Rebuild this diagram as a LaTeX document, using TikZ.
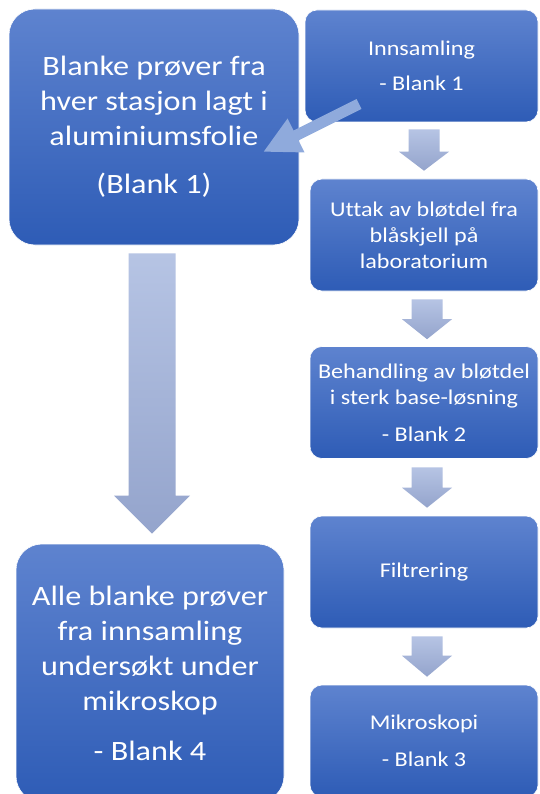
\documentclass[tikz,border=0pt]{standalone}
\usepackage{fontspec}
\setmainfont{Carlito}[FakeStretch=1.15,Ligatures={NoCommon}]
\usetikzlibrary{calc,arrows.meta}
\definecolor{boxtop}{RGB}{94,131,207}
\definecolor{boxmid}{RGB}{66,113,200}
\definecolor{boxbot}{RGB}{46,92,182}
\definecolor{arrtop}{RGB}{182,196,228}
\definecolor{arrbot}{RGB}{148,164,204}
\definecolor{diagcol}{RGB}{143,170,220}
\newcommand{\bigfnt}{\fontsize{28}{35}\selectfont}
\newcommand{\smallfnt}{\fontsize{21}{26}\selectfont}
% #1 from, #2 to, #3 dx, #4 top gap, #5 bottom gap, #6 stem half, #7 head half, #8 head length
\newcommand{\blockdown}[8]{%
  \coordinate (#1-#2-s) at ($(#1.south)+(#3,#4)$);
  \coordinate (#1-#2-t) at ($(#1-#2-s |- #2.north)+(0,-#5)$);
  \shade[arrowfill] ($(#1-#2-s)+(-#6,0)$) -- ($(#1-#2-s)+(#6,0)$)
    -- ($(#1-#2-t)+(#6,-#8)$) -- ($(#1-#2-t)+(#7,-#8)$) -- (#1-#2-t)
    -- ($(#1-#2-t)+(-#7,-#8)$) -- ($(#1-#2-t)+(-#6,-#8)$) -- cycle;}
\begin{document}
\begin{tikzpicture}[x=1pt,y=-1pt,
  box/.style={rectangle, rounded corners=#1, draw=white, line width=0.6pt,
    top color=boxtop, middle color=boxmid, bottom color=boxbot,
    text=white, align=center, inner sep=0pt},
  box/.default=12pt,
  bigbox/.style={box=26pt, font=\bigfnt},
  flowbox/.style={box=12pt, font=\smallfnt, minimum width=228pt, minimum height=112pt},
  arrowfill/.style={top color=arrtop, bottom color=arrbot, draw=none}]
\useasboundingbox (0,0) rectangle (539,794);
\fill[white] (0,0) rectangle (539,794);
% left column
\node[bigbox, minimum width=290pt, minimum height=236pt] (tl) at (154,127)
  {Blanke prøver fra\\hver stasjon lagt i\\aluminiumsfolie\\[13pt](Blank 1)};
\node[bigbox, minimum width=268pt, minimum height=258pt] (bl) at (150,673)
  {Alle blanke prøver\\fra innsamling\\undersøkt under\\mikroskop\\[15pt]- Blank 4};
% right column
\node[flowbox, minimum width=233pt] (b1) at (421.5,66) {Innsamling\\[9pt]- Blank 1};
\node[flowbox] (b2) at (424,235) {Uttak av bløtdel fra\\blåskjell på\\laboratorium};
\node[flowbox] (b3) at (424,402.5) {Behandling av bløtdel\\i sterk base-løsning\\[11pt]- Blank 2};
\node[flowbox] (b4) at (424,572) {\raisebox{-4pt}{Filtrering}};
\node[flowbox] (b5) at (424,741) {Mikroskopi\\[11pt]- Blank 3};
% block arrows
\blockdown{tl}{bl}{-2}{8}{10}{23.5}{38}{38}
\blockdown{b1}{b2}{2.5}{7}{8}{15.5}{25}{19}
\blockdown{b2}{b3}{3}{8}{7}{15.5}{25}{20}
\blockdown{b3}{b4}{3}{8.5}{8}{15.5}{25}{20}
\blockdown{b4}{b5}{3}{8}{8}{15.5}{25}{21}
% diagonal arrow
\coordinate (ds) at ($(b1.center)+(-62.5,38)$);
\coordinate (dt) at ($(tl.center)+(109,25)$);
\draw[diagcol, line width=11pt, -{Triangle[length=37pt,width=35pt]}] (ds) -- (dt);
\end{tikzpicture}
\end{document}
